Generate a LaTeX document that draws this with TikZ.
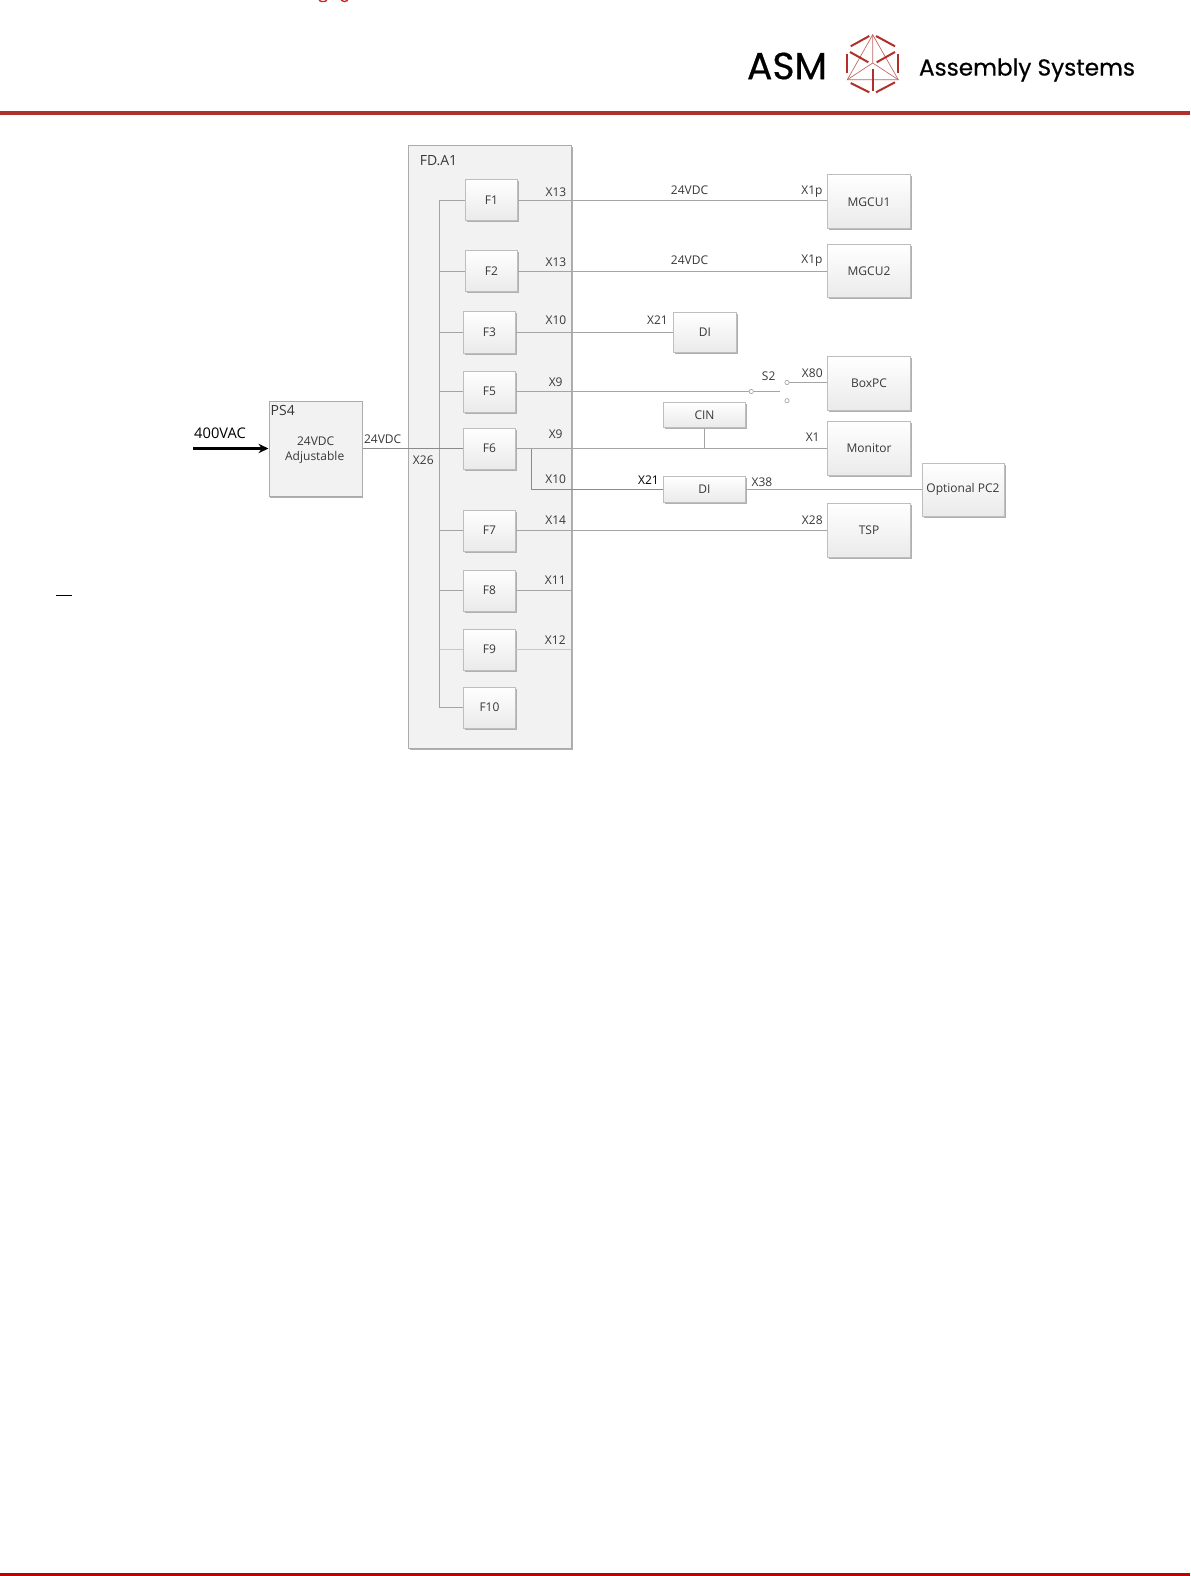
\documentclass[tikz,border=0pt]{standalone}
\usepackage{fontspec}
\setmainfont{Open Sans}
\newfontfamily\logofont[FakeBold=0.5]{Poppins}
\usetikzlibrary{arrows.meta}
\definecolor{boxline}{HTML}{BEBEBE}
\definecolor{boxshadow}{HTML}{B0B0B0}
\definecolor{boxbot}{HTML}{EAEAEA}
\definecolor{panel}{HTML}{F2F2F2}
\definecolor{panelline}{HTML}{ABABAB}
\definecolor{wire}{HTML}{A4A4A4}
\definecolor{txt}{HTML}{383838}
\definecolor{logored}{HTML}{B0302A}
\definecolor{footred}{HTML}{C00000}
\tikzset{
  lbl/.style={font=\fontsize{9}{10}\selectfont, text=txt, inner sep=0pt, yshift=-0.4pt},
  wireline/.style={draw=wire, line width=0.75pt},
  darkwire/.style={draw=wire!85!black, line width=0.75pt},
  bus/.style={draw=wire, line width=0.9pt},
  pbox/.style={draw=panelline, fill=panel, line width=0.75pt, inner sep=0pt, font=\fontsize{9}{11}\selectfont, text=txt, align=center},
  fbox/.style={draw=boxline, line width=0.75pt, top color=white, bottom color=boxbot, inner sep=0pt, text=txt, font=\fontsize{9}{10}\selectfont, align=center},
  contact/.style={circle, draw=wire, fill=white, line width=0.5pt, inner sep=0pt, minimum size=3.2pt},
  lthick/.style={draw=logored, line width=1.5pt},
  lthin/.style={draw=logored!75, line width=0.5pt},
}
% name, x1, y1, x2, y2, text
\newcommand{\fb}[6]{%
  \fill[boxshadow] (#2+1.5,#3+1.5) rectangle (#4+1.5,#5+1.5);
  \node[fbox, minimum width={(#4-#2)*0.75pt}, minimum height={(#5-#3)*0.75pt}] (#1) at ({(#2+#4)/2},{(#3+#5)/2}) {\raisebox{-0.35pt}{#6}};
}
\begin{document}
\begin{tikzpicture}[x=0.75pt,y=-0.75pt]
\useasboundingbox (0,0) rectangle (1190,1576);
\fill[white] (0,0) rectangle (1190,1576);

% top cut-off fragment
\draw[footred!85!white, line width=1pt] (319,0.3) .. controls (321,2) and (325,2) .. (327,0.3);
\draw[footred!85!white, line width=1pt] (341,0.3) .. controls (343,2) and (346,2) .. (348,0.3);

% header and footer rules
\fill[logored] (0,111) rectangle (1190,115);
\fill[footred] (0,1572.7) rectangle (1190,1576);

% logo
\node[inner sep=0pt, anchor=center, text=black] (asm) at (787,66)
  {\resizebox{60pt}{!}{\logofont ASM}};
\node[inner sep=0pt, anchor=center, text=black] (assembly) at (1027,70)
  {\resizebox{162pt}{!}{\logofont Assembly Systems}};
\draw[lthin] (872.7,34.7) -- (847.3,79.7) -- (898.3,79.7) -- cycle;
\draw[lthin] (872.7,34.7) -- (872.7,63) (847.3,79.7) -- (872.7,63) -- (898.3,79.7);
\draw[lthick] (850.7,46.3) -- (869.3,36);
\draw[lthick] (876,36) -- (895,46.3);
\draw[lthick] (898.3,54) -- (898.3,73);
\draw[lthick] (847.3,54) -- (847.3,73);
\draw[lthick] (850.7,83) -- (869.3,92.3);
\draw[lthick] (876,92.3) -- (895,82.3);
\draw[lthick] (850,52) -- (868.3,62.3);
\draw[lthick] (895,52) -- (876.7,62.3);
\draw[lthick] (872.7,68.7) -- (872.7,90.7);

% panels
\fill[boxshadow] (410,147) rectangle (572.5,750);
\node[pbox, minimum width={162.5*0.75pt}, minimum height={603*0.75pt}] (FDA) at (489.75,447) {};
\fill[boxshadow] (270,403) rectangle (363,498);
\node[pbox, minimum width={93*0.75pt}, minimum height={95*0.75pt}] (PS) at (315.5,449) {};

% fuse boxes
\fb{F1}{465.5}{180}{517.5}{221}{F1}
\fb{F2}{465.5}{251}{517.5}{292}{F2}
\fb{F3}{463.5}{312}{515.5}{353}{F3}
\fb{F5}{463.5}{371}{515.5}{412}{F5}
\fb{F6}{463.5}{428}{515.5}{469}{F6}
\fb{F7}{463.5}{510}{515.5}{551}{F7}
\fb{F8}{463.5}{570}{515.5}{611}{F8}
\fb{F9}{463.5}{629}{515.5}{670}{F9}
\fb{F10}{463.5}{687}{515.5}{728}{F10}

% right-hand boxes
\fb{MGCU1}{827.5}{175}{910.5}{229}{MGCU1}
\fb{MGCU2}{827.5}{245}{910.5}{298}{MGCU2}
\fb{DIa}{673.5}{312.5}{736.5}{352.5}{DI}
\fb{BoxPC}{827.5}{356.5}{910.5}{410.5}{BoxPC}
\fb{CIN}{663.5}{402.5}{745.5}{427.5}{CIN}
\fb{Monitor}{827.5}{421.5}{910.5}{475.5}{Monitor}
\fb{DIb}{663.5}{476.5}{745.5}{502.5}{DI}
\fb{PCtwo}{922}{463}{1004}{516}{Optional PC2}
\fb{TSP}{827.5}{503.5}{910.5}{557.5}{TSP}

% free ends and junctions
\coordinate (busTop) at (439.5,200.5);
\coordinate (busBot) at (439.5,707.5);
\coordinate (x11end) at (571.3,590.5);
\coordinate (x12end) at (571.3,649.5);
\coordinate (branch) at (531.5,448.5);
\coordinate (branchB) at (531.5,489.5);
\coordinate (cinJ) at (704.5,448.5);
\coordinate (swEnd) at (780,391.5);
\node[contact] (swA) at (751.3,391.5) {};
\node[contact] (swB) at (787,382.5) {};
\node[contact] (swC) at (787,400.7) {};

% connectors
\draw[bus] (F1.west) -- (busTop) -- (busBot) -- (F10.west);
\draw[wireline] (busTop |- F2.west) -- (F2.west);
\draw[wireline] (busTop |- F3.west) -- (F3.west);
\draw[wireline] (busTop |- F5.west) -- (F5.west);
\draw[darkwire] (PS.east |- F6.west) -- (F6.west);
\draw[wireline] (busTop |- F7.west) -- (F7.west);
\draw[wireline] (busTop |- F8.west) -- (F8.west);
\draw[wireline, draw=wire!60] (busTop |- F9.west) -- (F9.west);
\draw[wireline] (F1.east) -- (MGCU1.west |- F1.east);
\draw[wireline] (F2.east) -- (MGCU2.west |- F2.east);
\draw[wireline] (F3.east) -- (DIa.west |- F3.east);
\draw[wireline] (F5.east) -- (swA.west);
\draw[wireline] (swA.east) -- (swEnd);
\draw[wireline] (swB.east) -- (BoxPC.west |- swB.east);
\draw[wireline] (F6.east) -- (Monitor.west |- F6.east);
\draw[wireline] (CIN.south) -- (cinJ);
\draw[darkwire] (branch) -- (branchB) -- (DIb.west |- branchB);
\draw[wireline] (DIb.east |- branchB) -- (PCtwo.west |- branchB);
\draw[wireline] (F7.east) -- (TSP.west |- F7.east);
\draw[wireline] (F8.east) -- (x11end);
\draw[wireline, draw=wire!60] (F9.east) -- (x12end);
\coordinate (acIn) at (193,448.5);
\draw[black, line width=2.1pt, -{Stealth[length=7.5pt,width=7pt]}] (acIn) -- (PS.west |- acIn);
\coordinate (dashA) at (56,595.3);
\coordinate (dashB) at (71.7,595.3);
\draw[black, line width=0.9pt] (dashA) -- (dashB);

% labels
\node[lbl, font=\fontsize{11}{12}\selectfont, text=black] (lac) at (220,432.5) {400VAC};
\node[lbl, font=\fontsize{10.5}{12}\selectfont] (lps) at (282.7,410.3) {PS4};
\node[lbl] (lpa) at (315.7,440.7) {24VDC};
\node[lbl] (lpb) at (314.7,457.3) {Adjustable};
\node[lbl] (l24) at (382.7,438.3) {24VDC};
\node[lbl] (lx26) at (423.3,459.3) {X26};
\node[lbl, font=\fontsize{10.5}{12}\selectfont] (lfd) at (438.5,160) {FD.A1};
\node[lbl] (a1) at (556,191.5) {X13};
\node[lbl] (a2) at (556,261.5) {X13};
\node[lbl] (a3) at (556,320) {X10};
\node[lbl] (a4) at (555.7,382) {X9};
\node[lbl] (a5) at (555.7,433.7) {X9};
\node[lbl] (a6) at (555.7,478.7) {X10};
\node[lbl] (a7) at (555.7,519.7) {X14};
\node[lbl] (a8) at (555.3,580) {X11};
\node[lbl] (a9) at (555.3,639.3) {X12};
\node[lbl] (b1) at (689.5,189.5) {24VDC};
\node[lbl] (b2) at (689.5,260) {24VDC};
\node[lbl] (c1) at (812,191) {X1p};
\node[lbl] (c2) at (812,260.5) {X1p};
\node[lbl] (d1) at (657.5,319.5) {X21};
\node[lbl, text=black] (d2) at (648.5,480) {X21};
\node[lbl] (d3) at (762,481.7) {X38};
\node[lbl] (e1) at (768.7,375.7) {S2};
\node[lbl] (e2) at (812.3,372.7) {X80};
\node[lbl] (e3) at (812.7,437) {X1};
\node[lbl] (e4) at (812.3,520) {X28};
\end{tikzpicture}
\end{document}
